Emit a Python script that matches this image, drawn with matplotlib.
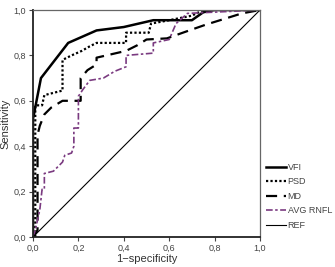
import matplotlib
matplotlib.use("Agg")
import matplotlib.pyplot as plt
from matplotlib.ticker import FuncFormatter, MultipleLocator

plt.rcParams["font.family"] = ["Liberation Sans", "DejaVu Sans"]

# ROC curves (1-specificity, sensitivity)
vfi_x = [0, 0, 0.035, 0.155, 0.28, 0.40, 0.53, 0.70, 0.75, 0.80, 1.0]
vfi_y = [0, 0.52, 0.70, 0.855, 0.91, 0.925, 0.955, 0.955, 0.99, 1.0, 1.0]

psd_x = [0.01, 0.01, 0.04, 0.05, 0.13, 0.13, 0.17, 0.215, 0.25, 0.28, 0.41, 0.41,
         0.51, 0.52, 0.60, 0.70, 0.75, 1.0]
psd_y = [0, 0.58, 0.58, 0.625, 0.645, 0.78, 0.80, 0.82, 0.84, 0.855, 0.855, 0.90,
         0.90, 0.94, 0.955, 0.975, 1.0, 1.0]

md_x = [0, 0.02, 0.02, 0.03, 0.05, 0.08, 0.13, 0.21, 0.21, 0.24, 0.28, 0.28, 0.41,
        0.46, 0.50, 0.59, 0.66, 0.76, 0.92, 1.0]
md_y = [0, 0.03, 0.45, 0.49, 0.54, 0.57, 0.60, 0.60, 0.70, 0.735, 0.76, 0.79, 0.82,
        0.845, 0.87, 0.875, 0.90, 0.935, 0.985, 1.0]

rnfl_x = [0, 0.01, 0.03, 0.04, 0.05, 0.05, 0.09, 0.13, 0.14, 0.17, 0.18, 0.18, 0.20,
          0.20, 0.22, 0.25, 0.31, 0.36, 0.41, 0.41, 0.53, 0.53, 0.60, 0.63, 0.68, 1.0]
rnfl_y = [0, 0.03, 0.12, 0.21, 0.21, 0.28, 0.29, 0.33, 0.36, 0.37, 0.40, 0.48, 0.48,
          0.62, 0.65, 0.69, 0.70, 0.73, 0.75, 0.80, 0.81, 0.855, 0.87, 0.94, 0.985, 1.0]

ref_x = [0, 1]
ref_y = [0, 1]

fig = plt.figure(figsize=(3.35, 2.67), dpi=100)
ax = fig.add_axes([33 / 335, 1 - 237 / 267, 227 / 335, 227 / 267])

ax.plot(vfi_x, vfi_y, color="black", lw=1.8, label="VFI")
ax.plot(psd_x, psd_y, color="black", lw=1.6, linestyle=(0, (1, 1)), label="PSD")
ax.plot(md_x, md_y, color="black", lw=1.6, linestyle=(0, (5, 3)), label="MD")
ax.plot(rnfl_x, rnfl_y, color="#7a3a80", lw=1.2, linestyle=(0, (4, 1.5, 1.5, 1.5)),
        label="AVG RNFL")
ax.plot(ref_x, ref_y, color="black", lw=0.8, label="REF")

ax.set_xlim(0, 1)
ax.set_ylim(0, 1)
ax.xaxis.set_major_locator(MultipleLocator(0.2))
ax.yaxis.set_major_locator(MultipleLocator(0.2))
fmt = FuncFormatter(lambda v, p: f"{v:.1f}".replace(".", ","))
ax.xaxis.set_major_formatter(fmt)
ax.yaxis.set_major_formatter(fmt)
ax.tick_params(labelsize=6.5, length=3, width=0.8, colors="#444444", pad=2)

for side in ["left", "bottom"]:
    ax.spines[side].set_linewidth(1.3)
    ax.spines[side].set_color("#222222")
for side in ["top", "right"]:
    ax.spines[side].set_linewidth(0.9)
    ax.spines[side].set_color("#666666")

ax.set_xlabel("1\u2212specificity", fontsize=8, color="#333333", labelpad=1)
ax.set_ylabel("Sensitivity", fontsize=8, color="#333333", labelpad=2)

leg = fig.legend(loc="upper left", bbox_to_anchor=(266 / 335, 1 - 163 / 267),
                 frameon=False, fontsize=6.5, handlelength=2.2, handletextpad=0.2,
                 labelspacing=0.6, borderaxespad=0, borderpad=0)
for t in leg.get_texts():
    t.set_color("#444444")

fig.savefig("out.png", dpi=100)
